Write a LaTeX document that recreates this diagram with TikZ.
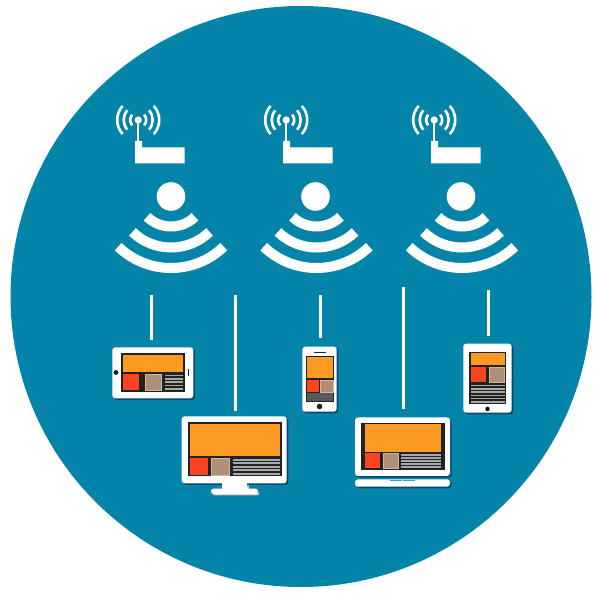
\documentclass[tikz,border=0pt]{standalone}
\definecolor{disc}{HTML}{0484A8}
\definecolor{shade}{HTML}{06476F}
\definecolor{scr}{HTML}{222222}
\definecolor{org}{HTML}{FD9A21}
\definecolor{redb}{HTML}{FB4522}
\definecolor{tanb}{HTML}{B18F74}
\definecolor{tanl}{HTML}{CDB8A4}
\definecolor{stripe}{HTML}{A8A8A8}
\definecolor{slot}{HTML}{3E9DBB}
\tikzset{
  link/.style={draw=white,line width=2.7pt},
  wave/.style={draw=white,line width=10pt},
  radio/.style={draw=white,line width=2.6pt},
  body/.style={fill=white,rounded corners=3pt},
  bodyshade/.style={fill=shade,rounded corners=3pt},
  panel/.style={fill=scr},
  tile/.style={fill=tanb,draw=tanl,line width=.7pt},
}
\newcommand{\wifisign}[2]{%
  \fill[white] (#2,196.5) circle (14.3);
  \draw[wave] (#1,192) ++(46:34.5) arc[start angle=46,end angle=134,radius=34.5];
  \draw[wave] (#1,192) ++(46:55.5) arc[start angle=46,end angle=134,radius=55.5];
  \draw[wave] (#1,192) ++(46:76) arc[start angle=46,end angle=134,radius=76];
}
\newcommand{\routersign}[1]{%
  \fill[white] (#1,163.5) -- (#1,141) -- (#1+7,141) -- (#1+7,147.5) -- (#1+49.5,147.5) -- (#1+49.5,163.5) -- cycle;
  \draw[white,line width=1.6pt] (#1+3.2,120) -- (#1+3.2,142);
  \fill[white] (#1+3.2,120) circle (3.6);
  \draw[radio] (#1+3.2,120) ++(-42:8) arc[start angle=-42,end angle=42,radius=8];
  \draw[radio] (#1+3.2,120) ++(138:8) arc[start angle=138,end angle=222,radius=8];
  \draw[radio] (#1+3.2,120) ++(-42:14.5) arc[start angle=-42,end angle=42,radius=14.5];
  \draw[radio] (#1+3.2,120) ++(138:14.5) arc[start angle=138,end angle=222,radius=14.5];
  \draw[radio] (#1+3.2,120) ++(-42:21) arc[start angle=-42,end angle=42,radius=21];
  \draw[radio] (#1+3.2,120) ++(138:21) arc[start angle=138,end angle=222,radius=21];
}
% x1 x2 y1 y2 n
\newcommand{\stripes}[5]{%
  \pgfmathsetmacro{\pitch}{(#4-#3)/#5}
  \pgfmathsetmacro{\lastn}{#5-1}
  \foreach \k in {0,...,\lastn}{
    \fill[stripe] (#1,{#3+(\k+.25)*\pitch}) rectangle (#2,{#3+(\k+.75)*\pitch});
  }
}
\newcommand{\casing}[4]{%
  \fill[bodyshade] (#1+1.6,#3+1.6) rectangle (#2+1.6,#4+1.6);
  \fill[body] (#1,#3) rectangle (#2,#4);
}
\begin{document}
\begin{tikzpicture}[x=1pt,y=1pt]
\useasboundingbox (0,0) rectangle (600,600);
\fill[white] (0,0) rectangle (600,600);
\begin{scope}[shift={(0,600)},yscale=-1]
\fill[disc] (301,296.5) circle (290.5);

\foreach \w/\d in {171/171,316.5/315.5,462/461}{\wifisign{\w}{\d}}
\foreach \r in {135,283,431}{\routersign{\r}}

% connectors
\coordinate (a1) at (151.3,295);   \coordinate (a2) at (151.3,340);
\coordinate (b1) at (235.4,295);   \coordinate (b2) at (235.4,411);
\coordinate (c1) at (320.5,295); \coordinate (c2) at (320.5,338);
\coordinate (d1) at (403.5,287); \coordinate (d2) at (403.5,409);
\coordinate (e1) at (488.5,290); \coordinate (e2) at (488.5,336);
\draw[link] (a1) -- (a2);
\draw[link] (b1) -- (b2);
\draw[link] (c1) -- (c2);
\draw[link] (d1) -- (d2);
\draw[link] (e1) -- (e2);

% landscape tablet
\casing{112.3}{193.3}{347.3}{398.3}
\fill[panel] (120.7,353.3) rectangle (184.7,392.3);
\fill[org] (123,355.5) rectangle (183,372.5);
\fill[redb] (123,374) rectangle (138.5,390);
\fill[tile] (145,374) rectangle (161,390);
\stripes{164.5}{183}{374}{390.5}{5}
\fill[scr] (116,372.5) circle (2.4);
\fill[scr] (188,369.5) rectangle (189,376);

% monitor
\fill[shade,rounded corners=2.5pt] (212.5,490.5) rectangle (259.5,495.5);
\fill[shade] (223,480) rectangle (249,491);
\casing{181.7}{286.7}{416.3}{483.3}
\fill[white] (221.7,480) rectangle (247.3,490);
\fill[white,rounded corners=2.5pt] (211,488.7) rectangle (258,494);
\fill[panel] (188,422.5) rectangle (281.5,476);
\fill[org] (189.5,424) rectangle (280,456);
\fill[redb] (189.5,458) rectangle (207.5,475);
\fill[tile] (211.5,458) rectangle (229,475);
\stripes{233}{280}{458}{475.5}{5}

% phone
\casing{302.3}{336.7}{346.7}{411.7}
\fill[panel] (305.5,356) rectangle (334,401.7);
\fill[org] (306.5,357.5) rectangle (333,378);
\fill[redb] (306.5,380) rectangle (319,392);
\fill[tile] (320.8,380) rectangle (333,392);
\fill[black!65] (306.5,393.5) rectangle (333,401);
\fill[scr] (314,351.8) rectangle (326,353.2);
\fill[scr] (319.5,406.5) circle (2.8);

% laptop
\casing{355}{450}{417.3}{476}
\fill[panel] (361,423) rectangle (444.5,470);
\fill[org] (365,424.5) rectangle (441,451.8);
\fill[redb] (365,453.5) rectangle (380,468);
\fill[tile] (383,453.5) rectangle (398,468);
\stripes{401}{441}{453.5}{468.5}{5}
\casing{355}{450}{479.3}{486.7}
\fill[slot] (390,480.3) rectangle (402,481.5);
\fill[slot] (403,480.3) rectangle (415,481.5);

% portrait tablet
\casing{463.3}{511.7}{343.7}{412.7}
\fill[panel] (469.3,351.7) rectangle (506,404.3);
\fill[org] (470.5,353.5) rectangle (504.5,365.5);
\fill[redb] (470.5,367) rectangle (486,382);
\fill[tile] (489,367) rectangle (504.5,382);
\stripes{470.5}{504.5}{384}{403.5}{6}
\fill[black] (487.5,409) circle (2.2);
\end{scope}
\end{tikzpicture}
\end{document}
